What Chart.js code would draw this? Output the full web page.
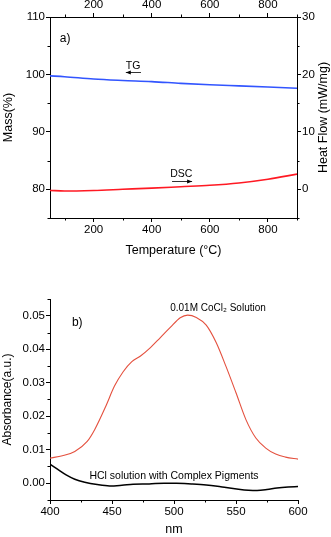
<!DOCTYPE html>
<html><head><meta charset="utf-8">
<script src="https://cdn.jsdelivr.net/npm/chart.js@4"></script>
<style>
html,body{margin:0;padding:0;background:#fff;width:331px;height:537px;overflow:hidden}
#a{position:absolute;left:0;top:0}
#b{position:absolute;left:0;top:270px}
</style></head><body>
<canvas id="a" width="331" height="262"></canvas>
<canvas id="b" width="331" height="267"></canvas>
<script>
// ---- Panel a) TG / DSC ----
const tempC    = [50, 100, 200, 300, 400, 500, 600, 700, 800, 900];
const massPct  = [99.75, 99.6, 99.2, 98.95, 98.75, 98.45, 98.2, 98.0, 97.8, 97.6];
const heatFlow = [-0.2, -0.3, -0.2, 0.0, 0.2, 0.45, 0.7, 1.1, 1.75, 2.65];
const tempTicks = [200, 400, 600, 800];
const tempMinor = [100, 300, 500, 700, 900];
const massTicks = [80, 90, 100, 110];
const massMinor = [75, 85, 95, 105];
const heatTicks = [0, 10, 20, 30];
const heatMinor = [-5, 5, 15, 25];

// ---- Panel b) absorbance ----
const wlCoCl2  = [400, 410, 420, 430, 436, 445, 452, 459, 466, 473, 481, 489, 497, 505, 511, 518, 526, 534, 542, 550, 558, 566, 574, 582, 590, 600];
const absCoCl2 = [0.0075, 0.0082, 0.0095, 0.0125, 0.016, 0.023, 0.029, 0.0333, 0.0363, 0.038, 0.0405, 0.0435, 0.0465, 0.0494, 0.0502, 0.0495, 0.0472, 0.042, 0.0348, 0.027, 0.019, 0.0135, 0.0105, 0.0087, 0.0078, 0.0072];
const wlHCl    = [400, 406, 413, 420, 428, 438, 448, 458, 467, 480, 492, 502, 514, 526, 535, 542, 552, 560, 567, 575, 583, 592, 600];
const absHCl   = [0.0057, 0.0042, 0.0025, 0.0012, 0.0003, -0.0004, -0.0008, -0.0006, -0.0003, -0.0002, 0.0, 0.0, -0.0002, -0.0005, -0.0009, -0.0013, -0.0018, -0.0021, -0.0022, -0.0019, -0.0014, -0.0011, -0.001];
const nmTicks  = [400, 450, 500, 550, 600];
const nmMinor  = [425, 475, 525, 575];
const absTicks = [0.00, 0.01, 0.02, 0.03, 0.04, 0.05];
const absMinor = [-0.005, 0.005, 0.015, 0.025, 0.035, 0.045, 0.055];

const FONT = "'Liberation Sans', Arial, 'DejaVu Sans', sans-serif";
Chart.defaults.font.family = FONT;
Chart.defaults.color = '#000';

const minorTicksPlugin = {
  id: 'minorTicks',
  afterDraw(chart, args, opts) {
    const ctx = chart.ctx;
    ctx.save(); ctx.strokeStyle = '#000'; ctx.lineWidth = 1;
    Object.entries(opts.ticks || {}).forEach(([id, vals]) => {
      const s = chart.scales[id];
      vals.forEach(v => {
        const p = Math.round(s.getPixelForValue(v)) + 0.5;
        ctx.beginPath();
        if (s.position === 'left') { ctx.moveTo(s.right - 2.5, p); ctx.lineTo(s.right, p); }
        else if (s.position === 'right') { ctx.moveTo(s.left, p); ctx.lineTo(s.left + 2.5, p); }
        else if (s.position === 'bottom') { ctx.moveTo(p, s.top); ctx.lineTo(p, s.top + 2.5); }
        else { ctx.moveTo(p, s.bottom); ctx.lineTo(p, s.bottom - 2.5); }
        ctx.stroke();
      });
    });
    ctx.restore();
  }
};

const notesPlugin = {
  id: 'notes',
  afterDraw(chart, args, opts) {
    const ctx = chart.ctx;
    ctx.save();
    (opts.texts || []).forEach(t => {
      ctx.font = t.font; ctx.fillStyle = '#000';
      ctx.textAlign = 'center'; ctx.textBaseline = 'middle';
      ctx.fillText(t.text, chart.scales[t.xAxis].getPixelForValue(t.x), chart.scales[t.yAxis].getPixelForValue(t.y));
    });
    (opts.arrows || []).forEach(a => {
      const xs = chart.scales[a.xAxis], ys = chart.scales[a.yAxis];
      const x1 = xs.getPixelForValue(a.x1), x2 = xs.getPixelForValue(a.x2);
      const y = Math.round(ys.getPixelForValue(a.y)) + 0.5;
      ctx.strokeStyle = '#333'; ctx.fillStyle = '#000'; ctx.lineWidth = 1;
      ctx.beginPath(); ctx.moveTo(x1, y); ctx.lineTo(x2, y); ctx.stroke();
      const hx = a.head === 'left' ? x1 : x2, d = a.head === 'left' ? 1 : -1;
      ctx.beginPath(); ctx.moveTo(hx, y); ctx.lineTo(hx + 5 * d, y - 2); ctx.lineTo(hx + 5 * d, y + 2); ctx.closePath(); ctx.fill();
    });
    (opts.vtitles || []).forEach(t => {
      ctx.font = t.font; ctx.fillStyle = '#000';
      ctx.textAlign = 'center'; ctx.textBaseline = 'middle';
      ctx.translate(t.x, (chart.chartArea.top + chart.chartArea.bottom) / 2);
      ctx.rotate(-Math.PI / 2);
      ctx.fillText(t.text, 0, 0);
      ctx.setTransform(1, 0, 0, 1, 0, 0);
    });
    ctx.restore();
  }
};

function axis(extra) {
  return Object.assign({
    type: 'linear',
    grid: { drawOnChartArea: false, drawTicks: true, tickLength: 4, color: '#000', tickColor: '#000' },
    border: { display: true, color: '#000', width: 1 },
    ticks: { color: '#000', font: { size: 11.5 }, padding: 1, maxRotation: 0, autoSkip: false }
  }, extra);
}
const setTicks = arr => s => { s.ticks = arr.map(v => ({ value: v })); };

new Chart(document.getElementById('a'), {
  type: 'line',
  data: {
    datasets: [
      { label: 'TG', data: tempC.map((t, i) => ({ x: t, y: massPct[i] })), xAxisID: 'x', yAxisID: 'yMass',
        borderColor: 'rgb(50,85,255)', borderWidth: 1.6, pointRadius: 0, cubicInterpolationMode: 'monotone', fill: false },
      { label: 'DSC', data: tempC.map((t, i) => ({ x: t, y: heatFlow[i] })), xAxisID: 'x', yAxisID: 'yHeat',
        borderColor: 'rgb(255,25,35)', borderWidth: 1.6, pointRadius: 0, cubicInterpolationMode: 'monotone', fill: false }
    ]
  },
  options: {
    responsive: false, animation: false, devicePixelRatio: 1,
    layout: { padding: 0 },
    scales: {
      x: axis({ position: 'bottom', min: 50, max: 900, afterBuildTicks: setTicks(tempTicks),
        title: { display: true, text: 'Temperature (°C)', font: { size: 12.5 }, color: '#000', padding: { top: 0, bottom: 4 } },
        afterFit: s => { s.height = 44; } }),
      x2: axis({ position: 'top', min: 50, max: 900, afterBuildTicks: setTicks(tempTicks),
        afterFit: s => { s.height = 17; } }),
      yMass: axis({ position: 'left', min: 75, max: 110, afterBuildTicks: setTicks(massTicks),
        title: { display: true, text: 'Mass(%)', font: { size: 12.5 }, color: '#000', padding: { top: 1, bottom: 0 } },
        afterFit: s => { s.width = 50; } }),
      yHeat: axis({ position: 'right', min: -5, max: 30, afterBuildTicks: setTicks(heatTicks),
        afterFit: s => { s.width = 34; } })
    },
    plugins: {
      legend: { display: false }, tooltip: { enabled: false },
      minorTicks: { ticks: { x: tempMinor, x2: tempMinor, yMass: massMinor, yHeat: heatMinor } },
      notes: {
        texts: [
          { text: 'a)', x: 102, y: 106.3, xAxis: 'x', yAxis: 'yMass', font: '12px ' + FONT },
          { text: 'TG', x: 336, y: 101.5, xAxis: 'x', yAxis: 'yMass', font: '10.5px ' + FONT },
          { text: 'DSC', x: 502, y: 82.7, xAxis: 'x', yAxis: 'yMass', font: '10.5px ' + FONT }
        ],
        arrows: [
          { x1: 311, x2: 363, y: 100.45, head: 'left', xAxis: 'x', yAxis: 'yMass' },
          { x1: 470, x2: 539, y: 81.5, head: 'right', xAxis: 'x', yAxis: 'yMass' }
        ],
        vtitles: [ { text: 'Heat Flow (mW/mg)', x: 324, font: '12.5px ' + FONT } ]
      }
    }
  },
  plugins: [minorTicksPlugin, notesPlugin]
});

new Chart(document.getElementById('b'), {
  type: 'line',
  data: {
    datasets: [
      { label: '0.01M CoCl2 Solution', data: wlCoCl2.map((w, i) => ({ x: w, y: absCoCl2[i] })),
        borderColor: 'rgb(228,80,62)', borderWidth: 1.1, pointRadius: 0, cubicInterpolationMode: 'monotone', fill: false },
      { label: 'HCl solution with Complex Pigments', data: wlHCl.map((w, i) => ({ x: w, y: absHCl[i] })),
        borderColor: '#000', borderWidth: 1.5, pointRadius: 0, cubicInterpolationMode: 'monotone', fill: false }
    ]
  },
  options: {
    responsive: false, animation: false, devicePixelRatio: 1,
    layout: { padding: { top: 29, right: 33, left: 0, bottom: 0 } },
    scales: {
      x: axis({ position: 'bottom', min: 400, max: 600, afterBuildTicks: setTicks(nmTicks),
        title: { display: true, text: 'nm', font: { size: 12.5 }, color: '#000', padding: { top: 0, bottom: 0 } },
        afterFit: s => { s.height = 37; } }),
      y: axis({ position: 'left', min: -0.005, max: 0.055, afterBuildTicks: setTicks(absTicks),
        ticks: { color: '#000', font: { size: 11.5 }, padding: 1, autoSkip: false, callback: v => Number(v).toFixed(2) },
        title: { display: true, text: 'Absorbance(a.u.)', font: { size: 12 }, color: '#000', padding: { top: 0, bottom: 0 } },
        afterFit: s => { s.width = 50; } })
    },
    plugins: {
      legend: { display: false }, tooltip: { enabled: false },
      minorTicks: { ticks: { x: nmMinor, y: absMinor } },
      notes: {
        texts: [
          { text: 'b)', x: 422, y: 0.0478, xAxis: 'x', yAxis: 'y', font: '12px ' + FONT },
          { text: '0.01M CoCl\u2082 Solution', x: 535.5, y: 0.0521, xAxis: 'x', yAxis: 'y', font: '10px ' + FONT },
          { text: 'HCl solution with Complex Pigments', x: 500, y: 0.0022, xAxis: 'x', yAxis: 'y', font: '10.5px ' + FONT }
        ]
      }
    }
  },
  plugins: [minorTicksPlugin, notesPlugin]
});
</script>
</body></html>
